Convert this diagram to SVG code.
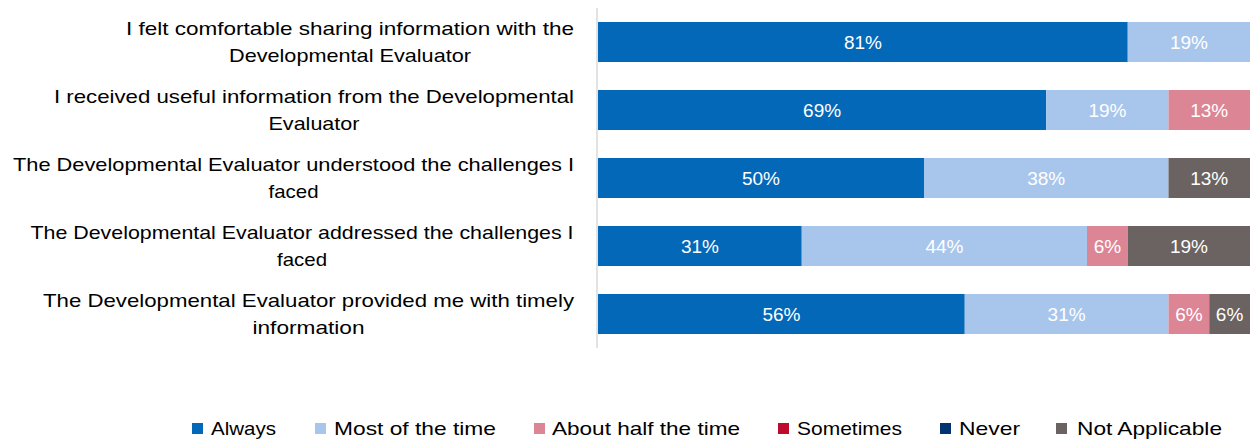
<svg xmlns="http://www.w3.org/2000/svg" width="1251" height="441" viewBox="0 0 1251 441">
<style>
.lbl{font-family:"Liberation Sans",Arial,sans-serif;font-size:19px;fill:#000;text-anchor:middle}
.val{font-family:"Liberation Sans",Arial,sans-serif;font-size:19px;fill:#fff;text-anchor:middle}
.leg{font-family:"Liberation Sans",Arial,sans-serif;font-size:19px;fill:#000}
.a{fill:#0468B9}.m{fill:#A8C6EC}.h{fill:#DC8595}.s{fill:#BE0A2F}.n{fill:#033270}.x{fill:#6B6361}
</style>
<rect width="1251" height="441" fill="#fff"/>
<line x1="597" y1="8" x2="597" y2="348" stroke="#D9D9D9" stroke-width="1.5"/>
<g id="row1">
<text class="lbl" x="350" y="35" textLength="448" lengthAdjust="spacingAndGlyphs">I felt comfortable sharing information with the</text>
<text class="lbl" x="350" y="62" textLength="242" lengthAdjust="spacingAndGlyphs">Developmental Evaluator</text>
<rect class="a" x="598" y="22" width="529.75" height="40"/>
<rect class="m" x="1127.75" y="22" width="122.25" height="40"/>
<text class="val" x="862.9" y="49">81%</text>
<text class="val" x="1188.9" y="49">19%</text>
</g>
<g id="row2">
<text class="lbl" x="314" y="103" textLength="520" lengthAdjust="spacingAndGlyphs">I received useful information from the Developmental</text>
<text class="lbl" x="314" y="130" textLength="91" lengthAdjust="spacingAndGlyphs">Evaluator</text>
<rect class="a" x="598" y="90" width="448.25" height="40"/>
<rect class="m" x="1046.25" y="90" width="122.25" height="40"/>
<rect class="h" x="1168.5" y="90" width="81.5" height="40"/>
<text class="val" x="822.1" y="117">69%</text>
<text class="val" x="1107.4" y="117">19%</text>
<text class="val" x="1209.25" y="117">13%</text>
</g>
<g id="row3">
<text class="lbl" x="293.5" y="171" textLength="561" lengthAdjust="spacingAndGlyphs">The Developmental Evaluator understood the challenges I</text>
<text class="lbl" x="293.5" y="198" textLength="50" lengthAdjust="spacingAndGlyphs">faced</text>
<rect class="a" x="598" y="158" width="326" height="40"/>
<rect class="m" x="924" y="158" width="244.5" height="40"/>
<rect class="x" x="1168.5" y="158" width="81.5" height="40"/>
<text class="val" x="761" y="185">50%</text>
<text class="val" x="1046.25" y="185">38%</text>
<text class="val" x="1209.25" y="185">13%</text>
</g>
<g id="row4">
<text class="lbl" x="302" y="239" textLength="543" lengthAdjust="spacingAndGlyphs">The Developmental Evaluator addressed the challenges I</text>
<text class="lbl" x="302" y="266" textLength="50" lengthAdjust="spacingAndGlyphs">faced</text>
<rect class="a" x="598" y="226" width="203.75" height="40"/>
<rect class="m" x="801.75" y="226" width="285.25" height="40"/>
<rect class="h" x="1087" y="226" width="40.75" height="40"/>
<rect class="x" x="1127.75" y="226" width="122.25" height="40"/>
<text class="val" x="699.9" y="253">31%</text>
<text class="val" x="944.4" y="253">44%</text>
<text class="val" x="1107.4" y="253">6%</text>
<text class="val" x="1188.9" y="253">19%</text>
</g>
<g id="row5">
<text class="lbl" x="308.5" y="307" textLength="531" lengthAdjust="spacingAndGlyphs">The Developmental Evaluator provided me with timely</text>
<text class="lbl" x="308.5" y="334" textLength="112" lengthAdjust="spacingAndGlyphs">information</text>
<rect class="a" x="598" y="294" width="366.75" height="40"/>
<rect class="m" x="964.75" y="294" width="203.75" height="40"/>
<rect class="h" x="1168.5" y="294" width="40.75" height="40"/>
<rect class="x" x="1209.25" y="294" width="40.75" height="40"/>
<text class="val" x="781.4" y="321">56%</text>
<text class="val" x="1066.6" y="321">31%</text>
<text class="val" x="1188.9" y="321">6%</text>
<text class="val" x="1229.6" y="321">6%</text>
</g>
<g id="legend">
<rect class="a" x="192" y="423" width="11" height="11"/>
<text class="leg" x="211" y="435" textLength="65" lengthAdjust="spacingAndGlyphs">Always</text>
<rect class="m" x="315" y="423" width="11" height="11"/>
<text class="leg" x="334" y="435" textLength="162" lengthAdjust="spacingAndGlyphs">Most of the time</text>
<rect class="h" x="534" y="423" width="11" height="11"/>
<text class="leg" x="552" y="435" textLength="188" lengthAdjust="spacingAndGlyphs">About half the time</text>
<rect class="s" x="778" y="423" width="11" height="11"/>
<text class="leg" x="797" y="435" textLength="105" lengthAdjust="spacingAndGlyphs">Sometimes</text>
<rect class="n" x="940" y="423" width="11" height="11"/>
<text class="leg" x="959" y="435" textLength="61" lengthAdjust="spacingAndGlyphs">Never</text>
<rect class="x" x="1056" y="423" width="11" height="11"/>
<text class="leg" x="1077" y="435" textLength="145" lengthAdjust="spacingAndGlyphs">Not Applicable</text>
</g>
</svg>
